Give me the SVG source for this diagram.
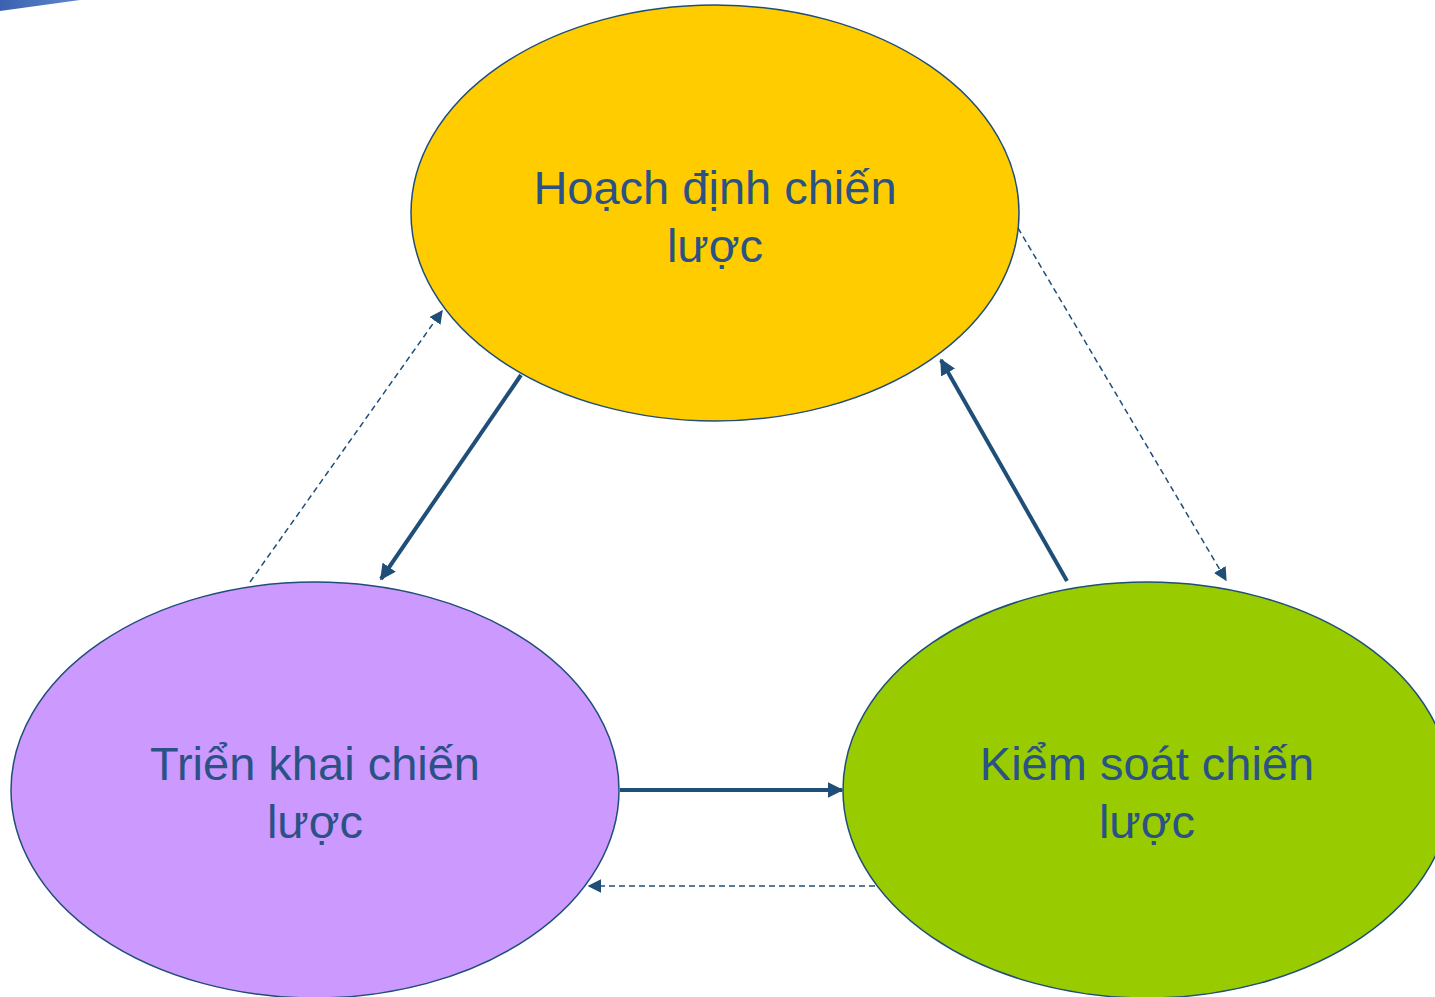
<svg xmlns="http://www.w3.org/2000/svg" width="1435" height="997" viewBox="0 0 1435 997">
<defs>
<linearGradient id="g" x1="0" y1="0" x2="1" y2="0"><stop offset="0" stop-color="#3a62b0"/><stop offset="1" stop-color="#5f86cc"/></linearGradient>
<marker id="ah" viewBox="0 0 10 10" refX="9" refY="5" markerWidth="4" markerHeight="4" orient="auto" markerUnits="strokeWidth"><path d="M0,0 L10,5 L0,10 z" fill="#1f4e79"/></marker>
<marker id="ahd" viewBox="0 0 10 10" refX="9" refY="5" markerWidth="9" markerHeight="9" orient="auto" markerUnits="strokeWidth"><path d="M0,0 L10,5 L0,10 z" fill="#1f4e79"/></marker>
<style>
.node{stroke:#1f4e79;stroke-width:1.5}
.t{font-family:"Liberation Sans",Arial,sans-serif;font-size:47px;fill:#2a5285;text-anchor:middle}
.s{stroke:#1f4e79;stroke-width:4;fill:none}
.d{stroke:#1f4e79;stroke-width:1.5;stroke-dasharray:6 4;fill:none}
</style>
</defs>
<polygon points="0,0 80,0 0,11" fill="url(#g)"/>
<g id="node-hoach-dinh">
<ellipse class="node" cx="715" cy="213" rx="304" ry="208" fill="#ffcc00"/>
<text class="t" x="715" y="204">Hoạch định chiến</text>
<text class="t" x="715" y="262">lược</text>
</g>
<g id="node-trien-khai">
<ellipse class="node" cx="315" cy="790" rx="304" ry="208" fill="#cc99ff"/>
<text class="t" x="315" y="780">Triển khai chiến</text>
<text class="t" x="315" y="838">lược</text>
</g>
<g id="node-kiem-soat">
<ellipse class="node" cx="1147" cy="790" rx="304" ry="208" fill="#99cc00"/>
<text class="t" x="1147" y="780">Kiểm soát chiến</text>
<text class="t" x="1147" y="838">lược</text>
</g>
<g id="connectors">
<line class="s" x1="521" y1="375" x2="381" y2="579" marker-end="url(#ah)"/>
<line class="s" x1="1067" y1="581" x2="941" y2="360" marker-end="url(#ah)"/>
<line class="s" x1="620" y1="790" x2="842" y2="790" marker-end="url(#ah)"/>
<line class="d" x1="250" y1="582" x2="442" y2="311" marker-end="url(#ahd)"/>
<line class="d" x1="1018" y1="228" x2="1226" y2="580" marker-end="url(#ahd)"/>
<line class="d" x1="875" y1="886" x2="589" y2="886" marker-end="url(#ahd)"/>
</g>
</svg>
